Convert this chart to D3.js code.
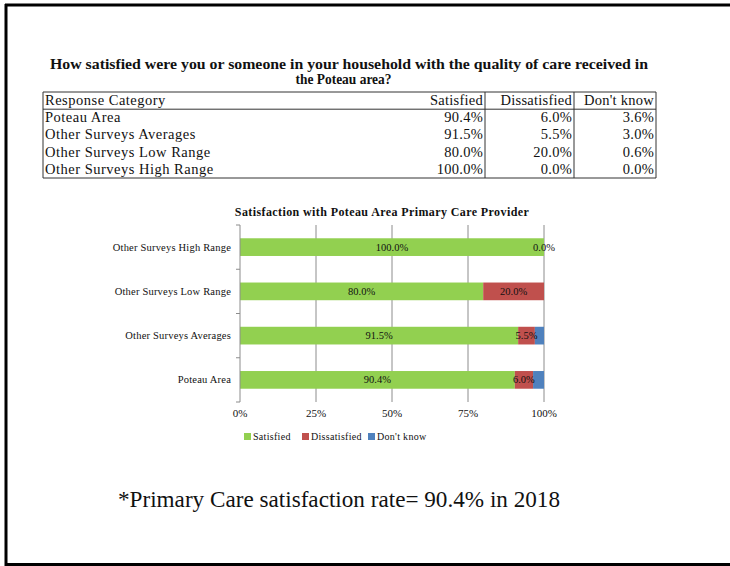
<!DOCTYPE html>
<html><head><meta charset="utf-8">
<script src="https://cdn.jsdelivr.net/npm/d3@7"></script>
<style>
html,body{margin:0;padding:0;background:#fff;}
svg{display:block;}
text{font-family:"Liberation Serif","Times New Roman",serif;fill:#111;}
</style></head>
<body>
<svg id="c" width="730" height="566"></svg>
<script>
// ---- data ----
const titleLines = ["How satisfied were you or someone in your household with the quality of care received in", "the Poteau area?"];
const tableHeaders = ["Response Category", "Satisfied", "Dissatisfied", "Don't know"];
const categories = ["Poteau Area", "Other Surveys Averages", "Other Surveys Low Range", "Other Surveys High Range"];
const satisfied = [90.4, 91.5, 80.0, 100.0];
const dissatisfied = [6.0, 5.5, 20.0, 0.0];
const dontKnow = [3.6, 3.0, 0.6, 0.0];
const seriesNames = ["Satisfied", "Dissatisfied", "Don't know"];
const xTicks = [0, 25, 50, 75, 100];
const chartTitle = "Satisfaction with Poteau Area Primary Care Provider";
const footnote = "*Primary Care satisfaction rate= 90.4% in 2018";

const colors = ["#92d050", "#c0504d", "#4f81bd"];
const svg = d3.select("#c");

// page frame
svg.append("line").attr("x1",6).attr("x2",6).attr("y1",4).attr("y2",566).attr("stroke","#000").attr("stroke-width",3);
svg.append("line").attr("x1",5).attr("x2",730).attr("y1",5).attr("y2",5).attr("stroke","#000").attr("stroke-width",3);
svg.append("line").attr("x1",5).attr("x2",730).attr("y1",564.5).attr("y2",564.5).attr("stroke","#000").attr("stroke-width",3);

// title
svg.append("text").attr("x",349).attr("y",69).attr("text-anchor","middle")
  .attr("font-weight","bold").attr("font-size",14.5).attr("textLength",598).attr("lengthAdjust","spacingAndGlyphs").text(titleLines[0]);
svg.append("text").attr("x",343.5).attr("y",84).attr("text-anchor","middle")
  .attr("font-weight","bold").attr("font-size",14.5).attr("textLength",96).attr("lengthAdjust","spacingAndGlyphs").text(titleLines[1]);

// table
const colEdges = [43, 485, 574, 656];
const rowTop = 92, rowH = 17.2;
const tbl = svg.append("g");
const nRows = categories.length + 1;
const tableBottom = rowTop + rowH*nRows;
tbl.append("line").attr("x1",colEdges[0]).attr("x2",colEdges[3]).attr("y1",rowTop).attr("y2",rowTop).attr("stroke","#333");
tbl.append("line").attr("x1",colEdges[0]).attr("x2",colEdges[3]).attr("y1",rowTop+rowH).attr("y2",rowTop+rowH).attr("stroke","#333");
tbl.append("line").attr("x1",colEdges[0]).attr("x2",colEdges[3]).attr("y1",tableBottom).attr("y2",tableBottom).attr("stroke","#333");
colEdges.forEach(x=>tbl.append("line").attr("x1",x).attr("x2",x).attr("y1",rowTop).attr("y2",tableBottom).attr("stroke","#333"));
const fmt = v => v.toFixed(1) + "%";
const rows = [tableHeaders].concat(categories.map((c,i)=>[c, fmt(satisfied[i]), fmt(dissatisfied[i]), fmt(dontKnow[i])]));
rows.forEach((r,ri)=>{
  const y = rowTop + rowH*ri + 13;
  tbl.append("text").attr("x",colEdges[0]+2).attr("y",y).attr("font-size",14.5).attr("letter-spacing",0.5).attr("fill","#222").text(r[0]);
  for (let k=1;k<4;k++){
    tbl.append("text").attr("x",colEdges[k]-2).attr("y",y).attr("text-anchor","end").attr("font-size",14.5).attr("letter-spacing",0.25).attr("fill","#222").text(r[k]);
  }
});

// chart
const x = d3.scaleLinear().domain([0,100]).range([240,544]);
const y = d3.scaleBand().domain(categories.slice().reverse()).range([225,402]).paddingInner(0.6).paddingOuter(0.3);
svg.append("text").attr("x",382).attr("y",216).attr("text-anchor","middle").attr("font-weight","bold").attr("font-size",12).attr("letter-spacing",0.4).text(chartTitle);

// gridlines
svg.append("g").selectAll("line").data(xTicks.slice(1)).join("line")
  .attr("x1",d=>x(d)).attr("x2",d=>x(d)).attr("y1",225).attr("y2",402).attr("stroke","#8c8c8c");

// stacked bars
const stackData = categories.map((c,i)=>({cat:c, s:satisfied[i], d:dissatisfied[i], k:dontKnow[i]}));
const stack = d3.stack().keys(["s","d","k"])(stackData);
svg.append("clipPath").attr("id","plot").append("rect").attr("x",240).attr("y",220).attr("width",304).attr("height",185);
const bars = svg.append("g").attr("clip-path","url(#plot)");
stack.forEach((layer,li)=>{
  bars.selectAll(null).data(layer).join("rect")
    .attr("x",d=>x(d[0])).attr("width",d=>Math.max(0,x(Math.min(100,d[1]))-x(d[0])))
    .attr("y",d=>y(d.data.cat)).attr("height",y.bandwidth()).attr("fill",colors[li]);
});

// bar labels (satisfied, dissatisfied)
const labels = svg.append("g");
[0,1].forEach(li=>{
  labels.selectAll(null).data(stack[li]).join("text")
    .attr("x",d=>x((d[0]+Math.min(100,d[1]))/2)).attr("y",d=>y(d.data.cat)+y.bandwidth()/2+3.5)
    .attr("text-anchor","middle").attr("font-size",10.5).attr("fill","#222")
    .text(d=>fmt(d[1]-d[0]));
});

// y axis
const ya = svg.append("g");
ya.append("line").attr("x1",240).attr("x2",240).attr("y1",225).attr("y2",402).attr("stroke","#8c8c8c");
const bounds = [225].concat(categories.slice().reverse().map(c=>y(c)+y.bandwidth()+ y.step()*y.paddingInner()/2)).slice(0,4).concat([402]);
ya.selectAll(null).data(bounds).join("line").attr("x1",236).attr("x2",240).attr("y1",d=>d).attr("y2",d=>d).attr("stroke","#8c8c8c");
ya.selectAll(null).data(categories).join("text")
  .attr("x",231).attr("y",d=>y(d)+y.bandwidth()/2+3.5).attr("text-anchor","end").attr("font-size",10.5).attr("letter-spacing",0.2).attr("fill","#222").text(d=>d);

// x tick labels
svg.append("g").selectAll("text").data(xTicks).join("text")
  .attr("x",d=>x(d)).attr("y",417).attr("text-anchor","middle").attr("font-size",11).attr("fill","#222").text(d=>d+"%");

// legend
const legX = [244, 302, 368];
const lg = svg.append("g");
seriesNames.forEach((n,i)=>{
  lg.append("rect").attr("x",legX[i]).attr("y",433).attr("width",7).attr("height",7).attr("fill",colors[i]);
  lg.append("text").attr("x",legX[i]+9).attr("y",440).attr("font-size",10).attr("letter-spacing",0.3).attr("fill","#222").text(n);
});

// footnote
svg.append("text").attr("x",118).attr("y",507).attr("font-size",24).attr("textLength",442).attr("lengthAdjust","spacingAndGlyphs").text(footnote);
</script>
</body></html>
